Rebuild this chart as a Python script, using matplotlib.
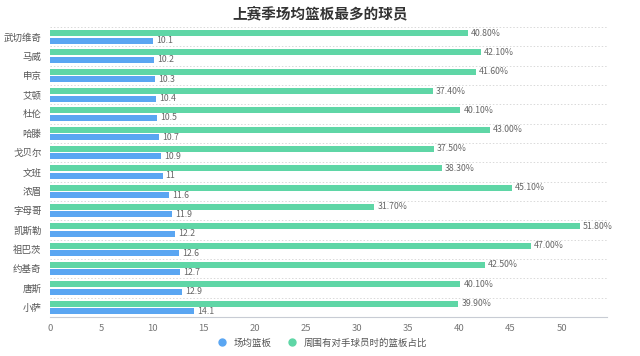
import matplotlib
matplotlib.use("Agg")
import matplotlib.pyplot as plt
import numpy as np
from matplotlib.lines import Line2D

plt.rcParams['font.family'] = ['Noto Sans CJK SC', 'DejaVu Sans']

players = ["武切维奇", "马威", "申京", "艾顿", "杜伦", "哈滕", "戈贝尔", "文班",
           "浓眉", "字母哥", "凯斯勒", "祖巴茨", "约基奇", "唐斯", "小萨"]
rebounds = [10.1, 10.2, 10.3, 10.4, 10.5, 10.7, 10.9, 11, 11.6, 11.9, 12.2, 12.6, 12.7, 12.9, 14.1]
share = [40.8, 42.1, 41.6, 37.4, 40.1, 43.0, 37.5, 38.3, 45.1, 31.7, 51.8, 47.0, 42.5, 40.1, 39.9]

blue = "#5aa6f2"
green = "#5fd6a6"
grey = "#666666"

fig = plt.figure(figsize=(6.4, 3.56), dpi=100)
ax = fig.add_axes([0.078, 0.11, 0.87, 0.814])

y = np.arange(len(players))
h = 0.31
ax.barh(y - 0.19, share, height=h, color=green, zorder=3)
ax.barh(y + 0.2, rebounds, height=h, color=blue, zorder=3)

for yi, v in zip(y, share):
    ax.text(v + 0.3, yi - 0.19, f"{v:.2f}%", va="center", ha="left", fontsize=6.3, color=grey)
for yi, v in zip(y, rebounds):
    ax.text(v + 0.3, yi + 0.2, f"{v:g}", va="center", ha="left", fontsize=6.3, color=grey)

ax.set_ylim(len(players) - 0.5, -0.5)
ax.set_xlim(0, 54.4)
ax.set_yticks(y)
ax.set_yticklabels(players, fontsize=6.8, color="#555555")
ax.set_xticks(np.arange(0, 55, 5))
ax.tick_params(axis="x", labelsize=6.8, colors="#777777", length=0, pad=5)
ax.tick_params(axis="y", length=0, pad=6)

for b in np.arange(-0.5, len(players), 1.0):
    ax.axhline(b, color="#d9d9d9", lw=0.7, ls=(0, (1.5, 2)), zorder=1)

for s in ["top", "right", "left"]:
    ax.spines[s].set_visible(False)
ax.spines["bottom"].set_color("#c8ccd4")
ax.spines["bottom"].set_linewidth(0.8)

fig.suptitle("上赛季场均篮板最多的球员", x=0.5, y=0.985, fontsize=10.5, fontweight="bold", color="#333333")

handles = [Line2D([], [], marker="o", ls="", color=blue, markersize=5),
           Line2D([], [], marker="o", ls="", color=green, markersize=5)]
fig.legend(handles, ["场均篮板", "周围有对手球员时的篮板占比"], loc="lower center",
           bbox_to_anchor=(0.5, 0.0), ncol=2, frameon=False, fontsize=6.8,
           handletextpad=0.2, columnspacing=1.2, labelcolor="#555555")

fig.savefig("out.png", dpi=100)
